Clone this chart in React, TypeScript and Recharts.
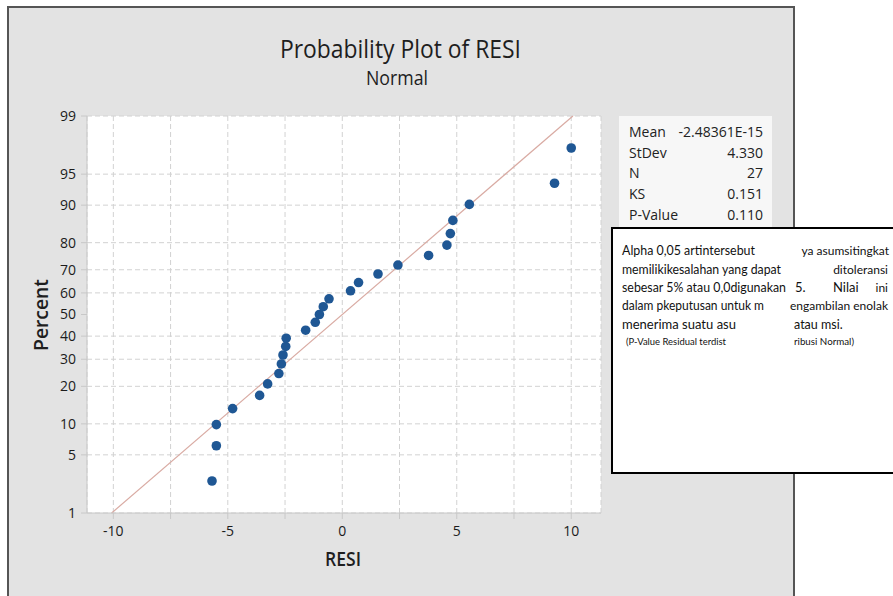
import { ScatterChart, Scatter, XAxis, YAxis, CartesianGrid, ReferenceLine } from 'recharts';

// ─── Data ──────────────────────────────────────────────────────────────────────
const RESI = [-5.69, -5.5, -5.5, -4.79, -3.61, -3.26, -2.77, -2.66, -2.59, -2.47, -2.45, -1.6, -1.18, -1.0, -0.83, -0.58, 0.36, 0.71, 1.56, 2.43, 3.77, 4.57, 4.72, 4.83, 5.55, 9.27, 10.0];
const PERCENT = [2.55, 6.2, 9.85, 13.5, 17.15, 20.8, 24.45, 28.1, 31.75, 35.4, 39.05, 42.7, 46.35, 50, 53.65, 57.3, 60.95, 64.6, 68.25, 71.9, 75.55, 79.2, 82.85, 86.5, 90.15, 93.8, 97.45];
const Y_TICKS = [1, 5, 10, 20, 30, 40, 50, 60, 70, 80, 90, 95, 99];
const X_TICKS = [-10, -7.5, -5, -2.5, 0, 2.5, 5, 7.5, 10];
const STATS = [
  ['Mean', '-2.48361E-15'],
  ['StDev', '4.330'],
  ['N', '27'],
  ['KS', '0.151'],
  ['P-Value', '0.110'],
];
const FIT_MEAN = 0;
const FIT_SD = 4.33;

// inverse standard normal (Acklam) — used as the probability-scale transform
function invNorm(p: number) {
  const a = [-39.69683028665376, 220.9460984245205, -275.9285104469687, 138.357751867269, -30.66479806614716, 2.506628277459239];
  const b = [-54.47609879822406, 161.5858368580409, -155.6989798598866, 66.80131188771972, -13.28068155288572];
  const c = [-0.007784894002430293, -0.3223964580411365, -2.400758277161838, -2.549732539343734, 4.374664141464968, 2.938163982698783];
  const d = [0.007784695709041462, 0.3224671290700398, 2.445134137142996, 3.754408661907416];
  const pl = 0.02425;
  if (p < pl) {
    const q = Math.sqrt(-2 * Math.log(p));
    return (((((c[0] * q + c[1]) * q + c[2]) * q + c[3]) * q + c[4]) * q + c[5]) / ((((d[0] * q + d[1]) * q + d[2]) * q + d[3]) * q + 1);
  }
  if (p <= 1 - pl) {
    const q = p - 0.5;
    const r = q * q;
    return ((((((a[0] * r + a[1]) * r + a[2]) * r + a[3]) * r + a[4]) * r + a[5]) * q) / (((((b[0] * r + b[1]) * r + b[2]) * r + b[3]) * r + b[4]) * r + 1);
  }
  const q = Math.sqrt(-2 * Math.log(1 - p));
  return -(((((c[0] * q + c[1]) * q + c[2]) * q + c[3]) * q + c[4]) * q + c[5]) / ((((d[0] * q + d[1]) * q + d[2]) * q + d[3]) * q + 1);
}

const points = RESI.map((x, i) => ({ x, z: invNorm(PERCENT[i] / 100) }));
const yTickZ = Y_TICKS.map(t => invNorm(t / 100));
const zLo = invNorm(0.01);
const zHi = invNorm(0.99);

const FONT = '"Open Sans", "Noto Sans", sans-serif';
const BOX_FONT = 'Lato, "Noto Sans", sans-serif';

const Dot = (props: any) => <circle cx={props.cx} cy={props.cy} r={4.8} fill="#1f5794" />;

export default function App() {
  return (
    <div style={{ position: 'absolute', left: 0, top: 0, width: 893, height: 596, background: '#fff', overflow: 'hidden' }}>
      {/* gray panel */}
      <div style={{
        position: 'absolute', left: 7, top: 6, width: 788, height: 600, boxSizing: 'border-box',
        background: '#e3e3e3', borderLeft: '2px solid #555', borderTop: '2px solid #555', borderRight: '2px solid #555',
      }} />

      <div style={{ position: 'absolute', left: 8, top: 7 }}>
        <ScatterChart width={785} height={589} margin={{ top: 109, right: 192, bottom: 53, left: 19 }}>
          <CartesianGrid stroke="#d2d2d2" strokeDasharray="5 3" fill="#ffffff" />
          <XAxis
            type="number" dataKey="x" domain={[-11.15, 11.3]} ticks={X_TICKS} allowDataOverflow
            tickFormatter={(v: number) => (v % 5 === 0 ? String(v) : '')}
            height={30} tickSize={6} tickMargin={7}
            axisLine={{ stroke: '#c8c8c8' }} tickLine={{ stroke: '#c8c8c8' }}
            tick={{ fill: '#1c1c1c', fontSize: 14, fontFamily: FONT, fontWeight: 500 }}
          />
          <YAxis
            type="number" dataKey="z" domain={[zLo, zHi]} ticks={yTickZ} allowDataOverflow
            tickFormatter={(v: number) => {
              const i = yTickZ.findIndex(t => Math.abs(t - v) < 1e-6);
              return i >= 0 ? String(Y_TICKS[i]) : '';
            }}
            width={60} tickSize={6} tickMargin={5}
            axisLine={{ stroke: '#c8c8c8' }} tickLine={{ stroke: '#c8c8c8' }}
            tick={{ fill: '#1c1c1c', fontSize: 14, fontFamily: FONT, fontWeight: 500 }}
          />
          <ReferenceLine
            segment={[{ x: FIT_MEAN + zLo * FIT_SD, y: zLo }, { x: FIT_MEAN + zHi * FIT_SD, y: zHi }]}
            stroke="#d9aba3" strokeWidth={1.2}
          />
          <Scatter data={points} shape={Dot} isAnimationActive={false} />
        </ScatterChart>
      </div>

      {/* titles, axis labels, stats table and the pasted note box */}
      <svg width={893} height={596} style={{ position: 'absolute', left: 0, top: 0, pointerEvents: 'none' }}>
        <text x={400.5} y={58} textAnchor="middle" fontSize={26} fontFamily={FONT} fill="#1e1e1e" textLength={241} lengthAdjust="spacingAndGlyphs">Probability Plot of RESI</text>
        <text x={397} y={85} textAnchor="middle" fontSize={20} fontFamily={FONT} fill="#1e1e1e" textLength={62} lengthAdjust="spacingAndGlyphs">Normal</text>
        <text x={343} y={566} textAnchor="middle" fontSize={20} fontFamily={FONT} fontWeight={600} fill="#1e1e1e" textLength={36} lengthAdjust="spacingAndGlyphs">RESI</text>
        <text x={48} y={315} textAnchor="middle" fontSize={20} fontFamily={FONT} fontWeight={600} fill="#1e1e1e" transform="rotate(-90 48 315)" textLength={72} lengthAdjust="spacingAndGlyphs">Percent</text>

        <rect x={619} y={116} width={153} height={120} fill="#f7f7f7" />
        {STATS.map(([k, v], i) => (
          <g key={k}>
            <text x={629} y={137 + i * 20.7} fontSize={14} fontFamily={FONT} fill="#222">{k}</text>
            <text x={763} y={137 + i * 20.7} textAnchor="end" fontSize={14} fontFamily={FONT} fill="#222">{v}</text>
          </g>
        ))}

        <rect x={612} y={228} width={300} height={245} fill="#fff" stroke="#000" strokeWidth={2} />
        <g fontFamily={BOX_FONT} fontSize={13} fill="#111">
          <text x={622} y={255} textLength={133} lengthAdjust="spacingAndGlyphs">Alpha 0,05 artintersebut</text>
          <text x={889} y={255} textAnchor="end" fontSize={12}>ya asumsitingkat</text>
          <text x={622} y={273.5} textLength={159} lengthAdjust="spacingAndGlyphs">memilikikesalahan yang dapat</text>
          <text x={888} y={273.5} textAnchor="end" fontSize={12}>ditoleransi</text>
          <text x={622} y={292} textLength={164} lengthAdjust="spacingAndGlyphs">sebesar 5% atau 0,0digunakan</text>
          <text x={795} y={292}>5.</text>
          <text x={833} y={292}>Nilai</text>
          <text x={888} y={292} textAnchor="end" fontSize={12}>ini</text>
          <text x={622} y={310} textLength={142} lengthAdjust="spacingAndGlyphs">dalam pkeputusan untuk m</text>
          <text x={888} y={310} textAnchor="end" fontSize={12}>engambilan enolak</text>
          <text x={622} y={328.5} textLength={114} lengthAdjust="spacingAndGlyphs">menerima suatu asu</text>
          <text x={794} y={328.5} fontSize={12.5}>atau msi.</text>
          <text x={626} y={344.5} fontSize={9.5} textLength={100} lengthAdjust="spacingAndGlyphs">(P-Value Residual terdist</text>
          <text x={794} y={344.5} fontSize={9.5} textLength={60} lengthAdjust="spacingAndGlyphs">ribusi Normal)</text>
        </g>
      </svg>
    </div>
  );
}
